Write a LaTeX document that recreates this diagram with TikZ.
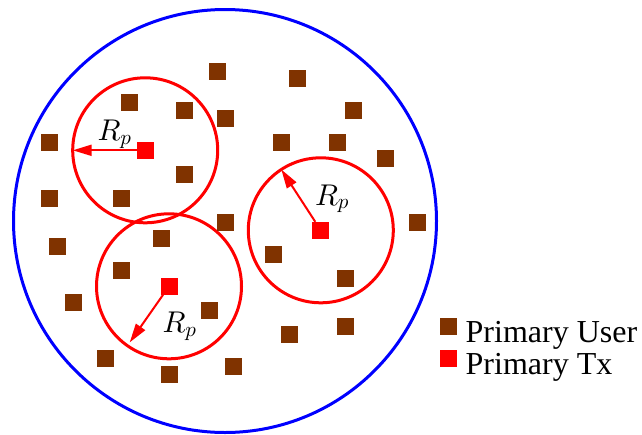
\documentclass[tikz,border=0pt]{standalone}
\usepackage{fontspec}
\setmainfont{Liberation Serif}
\DeclareFontShape{OML}{cmm}{m}{it}{<->cmmi10}{\skewchar\font'177}
\usetikzlibrary{arrows.meta}
\definecolor{pubrown}{RGB}{128,51,0}
\begin{document}
\begin{tikzpicture}[x=1pt,y=-1pt,
  pu/.style={fill=pubrown, minimum size=17pt, inner sep=0pt, outer sep=0pt},
  ptx/.style={fill=red, minimum size=17pt, inner sep=0pt, outer sep=0pt},
  zone/.style={draw=red, line width=3pt, circle, minimum size=145pt, inner sep=0pt, outer sep=0pt},
  radiusarrow/.style={draw=red, line width=2pt, -{Triangle[length=19pt,width=11pt]}},
  rlabel/.style={font=\fontsize{30}{34}\selectfont, inner sep=0pt, anchor=base west},
  legendtext/.style={font=\fontsize{32}{36}\selectfont, inner sep=0pt, anchor=base west}]
\useasboundingbox (0,0) rectangle (642,434);

% cell boundary
\node[draw=blue, line width=3pt, circle, minimum size=423pt, inner sep=0pt] (cell) at (225,221) {};

% primary transmitters and their protection zones
\node[zone] (c1) at (145.2,150.3) {};
\node[zone] (c2) at (320.8,230.3) {};
\node[zone] (c3) at (169,286.3) {};

% primary users
\node[pu] (u1) at (217,71) {};
\node[pu] (u2) at (297,78.5) {};
\node[pu] (u3) at (129,102) {};
\node[pu] (u4) at (184,110.5) {};
\node[pu] (u5) at (225,118.5) {};
\node[pu] (u6) at (353,110.5) {};
\node[pu] (u7) at (49,142.5) {};
\node[pu] (u8) at (281,142.5) {};
\node[pu] (u9) at (337,142.5) {};
\node[pu] (u10) at (385,158.5) {};
\node[pu] (u11) at (184,174.3) {};
\node[pu] (u12) at (49,198.3) {};
\node[pu] (u13) at (121,198.3) {};
\node[pu] (u14) at (225,222.3) {};
\node[pu] (u15) at (417,222.3) {};
\node[pu] (u16) at (161,238.3) {};
\node[pu] (u17) at (57,246.3) {};
\node[pu] (u18) at (273,254.3) {};
\node[pu] (u19) at (121,270.3) {};
\node[pu] (u20) at (345,278.3) {};
\node[pu] (u21) at (73,302.3) {};
\node[pu] (u22) at (209,310.3) {};
\node[pu] (u23) at (345,326.3) {};
\node[pu] (u24) at (289,334.3) {};
\node[pu] (u25) at (105,358.3) {};
\node[pu] (u26) at (233,366.3) {};
\node[pu] (u27) at (169,374.3) {};

% transmitters
\node[ptx] (tx1) at (145.2,150.3) {};
\node[ptx] (tx2) at (320.8,230.3) {};
\node[ptx] (tx3) at (169,286.3) {};

% radius arrows
\draw[radiusarrow] (tx1) -- (c1.180);
\draw[radiusarrow] (tx2) -- (c2.123);
\draw[radiusarrow, shorten >=4pt] (tx3) -- (c3.235);

\node[rlabel] (r1) at (97.5,140.5) {$R_p$};
\node[rlabel] (r2) at (315,205) {$R_p$};
\node[rlabel] (r3) at (162.5,332.7) {$R_p$};

% legend
\node[pu] (lpu) at (448.5,326.5) {};
\node[legendtext] (lput) at (465.5,342) {Primary User};
\node[ptx] (ltx) at (448.5,358.5) {};
\node[legendtext] (ltxt) at (465.5,374) {Primary Tx};
\end{tikzpicture}
\end{document}
